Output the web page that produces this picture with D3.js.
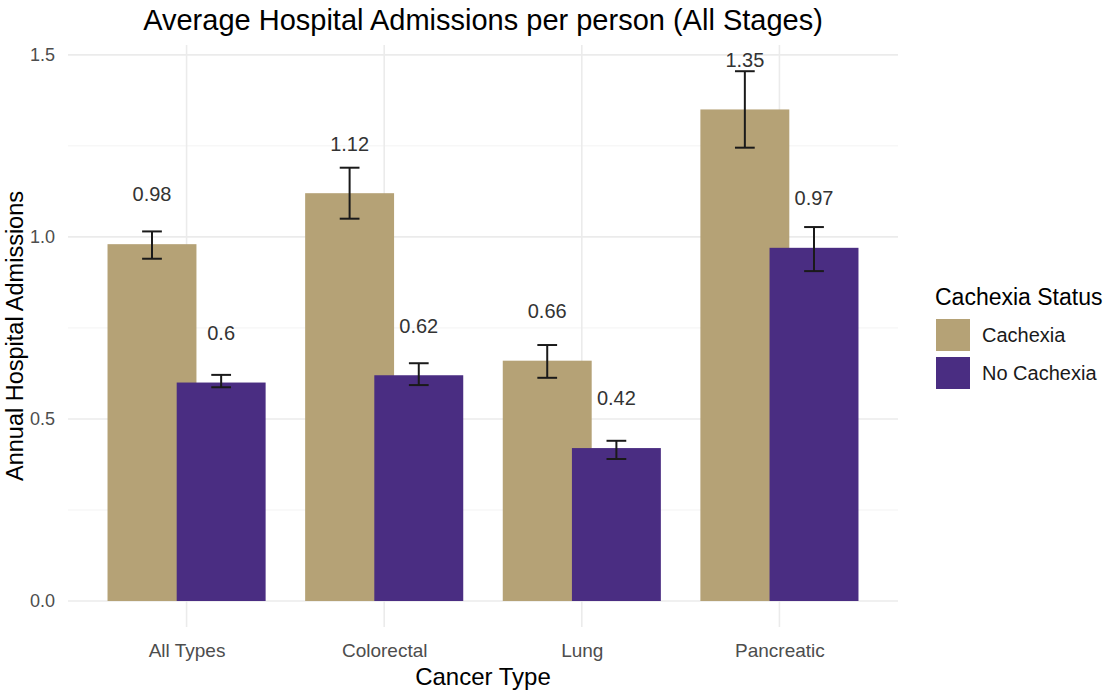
<!DOCTYPE html>
<html>
<head>
<meta charset="utf-8">
<script src="https://cdn.jsdelivr.net/npm/d3@7"></script>
<style>
  html, body { margin: 0; padding: 0; background: #ffffff; }
  svg { display: block; font-family: "Liberation Sans", Arial, sans-serif; }
</style>
</head>
<body>
<svg id="chart" width="1110" height="690"></svg>
<script>
// Cancer types on the x axis
const cancerTypes = ["All Types", "Colorectal", "Lung", "Pancreatic"];
// Cachexia groups (legend order)
const statuses = ["Cachexia", "No Cachexia"];

// Mean annual admissions per person
const cachexiaMean   = [0.98, 1.12, 0.66, 1.35];
const noCachexiaMean = [0.6, 0.62, 0.42, 0.97];

// Error bar limits
const cachexiaLower   = [0.94, 1.05, 0.613, 1.245];
const cachexiaUpper   = [1.015, 1.19, 0.703, 1.455];
const noCachexiaLower = [0.587, 0.593, 0.39, 0.906];
const noCachexiaUpper = [0.621, 0.653, 0.44, 1.027];

// Axis ticks
const yTicks = [0, 0.5, 1.0, 1.5];
const yMinorTicks = [0.25, 0.75, 1.25];
const yTickLabels = ["0.0", "0.5", "1.0", "1.5"];

const colors = { "Cachexia": "#b5a276", "No Cachexia": "#4a2d82" };

const rows = [];
cancerTypes.forEach((t, i) => {
  rows.push({ type: t, status: "Cachexia", mean: cachexiaMean[i], lo: cachexiaLower[i], hi: cachexiaUpper[i] });
  rows.push({ type: t, status: "No Cachexia", mean: noCachexiaMean[i], lo: noCachexiaLower[i], hi: noCachexiaUpper[i] });
});

const svg = d3.select("#chart");
const panel = { left: 68, right: 898, top: 45, bottom: 627 };

const x = d3.scalePoint().domain(cancerTypes).range([panel.left, panel.right]).padding(0.6);
const step = x.step();
const dodge = d3.scaleOrdinal().domain(statuses).range([-0.175 * step, 0.175 * step]);
const barW = 0.45 * step;
const capW = 0.1 * step;

const y = d3.scaleLinear().domain([-0.0714, 1.527]).range([panel.bottom, panel.top]);

// Grid
const grid = svg.append("g");
grid.selectAll("line.minor").data(yMinorTicks).join("line")
  .attr("x1", panel.left).attr("x2", panel.right)
  .attr("y1", d => y(d)).attr("y2", d => y(d))
  .attr("stroke", "#f3f3f3").attr("stroke-width", 1);
grid.selectAll("line.major").data(yTicks).join("line")
  .attr("x1", panel.left).attr("x2", panel.right)
  .attr("y1", d => y(d)).attr("y2", d => y(d))
  .attr("stroke", "#ebebeb").attr("stroke-width", 1.6);
grid.selectAll("line.vmajor").data(cancerTypes).join("line")
  .attr("x1", d => x(d)).attr("x2", d => x(d))
  .attr("y1", panel.top).attr("y2", panel.bottom)
  .attr("stroke", "#ebebeb").attr("stroke-width", 1.6);

// Bars (No Cachexia drawn after, overlapping the Cachexia bar)
svg.append("g").selectAll("rect").data(rows).join("rect")
  .attr("x", d => x(d.type) + dodge(d.status) - barW / 2)
  .attr("width", barW)
  .attr("y", d => y(d.mean))
  .attr("height", d => y(0) - y(d.mean))
  .attr("fill", d => colors[d.status]);

// Error bars
const eb = svg.append("g").attr("stroke", "#1a1a1a").attr("stroke-width", 2).attr("fill", "none");
rows.forEach(d => {
  const cx = x(d.type) + dodge(d.status);
  eb.append("line").attr("x1", cx).attr("x2", cx).attr("y1", y(d.lo)).attr("y2", y(d.hi));
  eb.append("line").attr("x1", cx - capW / 2).attr("x2", cx + capW / 2).attr("y1", y(d.lo)).attr("y2", y(d.lo));
  eb.append("line").attr("x1", cx - capW / 2).attr("x2", cx + capW / 2).attr("y1", y(d.hi)).attr("y2", y(d.hi));
});

// Value labels
const labelPad = 0.137;
svg.append("g").selectAll("text").data(rows).join("text")
  .attr("x", d => x(d.type) + dodge(d.status))
  .attr("y", d => y(d.mean + labelPad))
  .attr("dy", "0.36em")
  .attr("text-anchor", "middle")
  .attr("font-size", 20)
  .attr("fill", "#333333")
  .text(d => String(d.mean));

// Axes
const xAxis = svg.append("g").attr("transform", `translate(0,${panel.bottom})`)
  .call(d3.axisBottom(x).tickSize(0).tickPadding(0));
xAxis.select(".domain").remove();
xAxis.selectAll("text").attr("font-size", 19).attr("fill", "#4d4d4d")
  .attr("font-family", "Liberation Sans, Arial, sans-serif")
  .attr("y", 30).attr("dy", 0);

const yAxis = svg.append("g").attr("transform", `translate(55,0)`)
  .call(d3.axisLeft(y).tickValues(yTicks).tickFormat((d, i) => yTickLabels[i]).tickSize(0).tickPadding(0));
yAxis.select(".domain").remove();
yAxis.selectAll("text").attr("font-size", 18).attr("fill", "#4d4d4d")
  .attr("font-family", "Liberation Sans, Arial, sans-serif");

// Titles
svg.append("text").attr("x", (panel.left + panel.right) / 2).attr("y", 30)
  .attr("text-anchor", "middle").attr("font-size", 29).attr("fill", "#000")
  .text("Average Hospital Admissions per person (All Stages)");
svg.append("text").attr("x", (panel.left + panel.right) / 2).attr("y", 685)
  .attr("text-anchor", "middle").attr("font-size", 24).attr("fill", "#000")
  .text("Cancer Type");
svg.append("text")
  .attr("transform", `translate(23,${(panel.top + panel.bottom) / 2}) rotate(-90)`)
  .attr("text-anchor", "middle").attr("font-size", 23.5).attr("fill", "#000")
  .text("Annual Hospital Admissions");

// Legend
const legend = svg.append("g").attr("transform", "translate(935,0)");
legend.append("text").attr("x", 0).attr("y", 305).attr("font-size", 23).attr("fill", "#000")
  .text("Cachexia Status");
statuses.forEach((s, i) => {
  const top = 319 + i * 38;
  legend.append("rect").attr("x", 1).attr("y", top).attr("width", 34).attr("height", 32)
    .attr("fill", colors[s]);
  legend.append("text").attr("x", 47).attr("y", top + 16).attr("dy", "0.36em")
    .attr("font-size", 20).attr("fill", "#1a1a1a").text(s);
});
</script>
</body>
</html>
